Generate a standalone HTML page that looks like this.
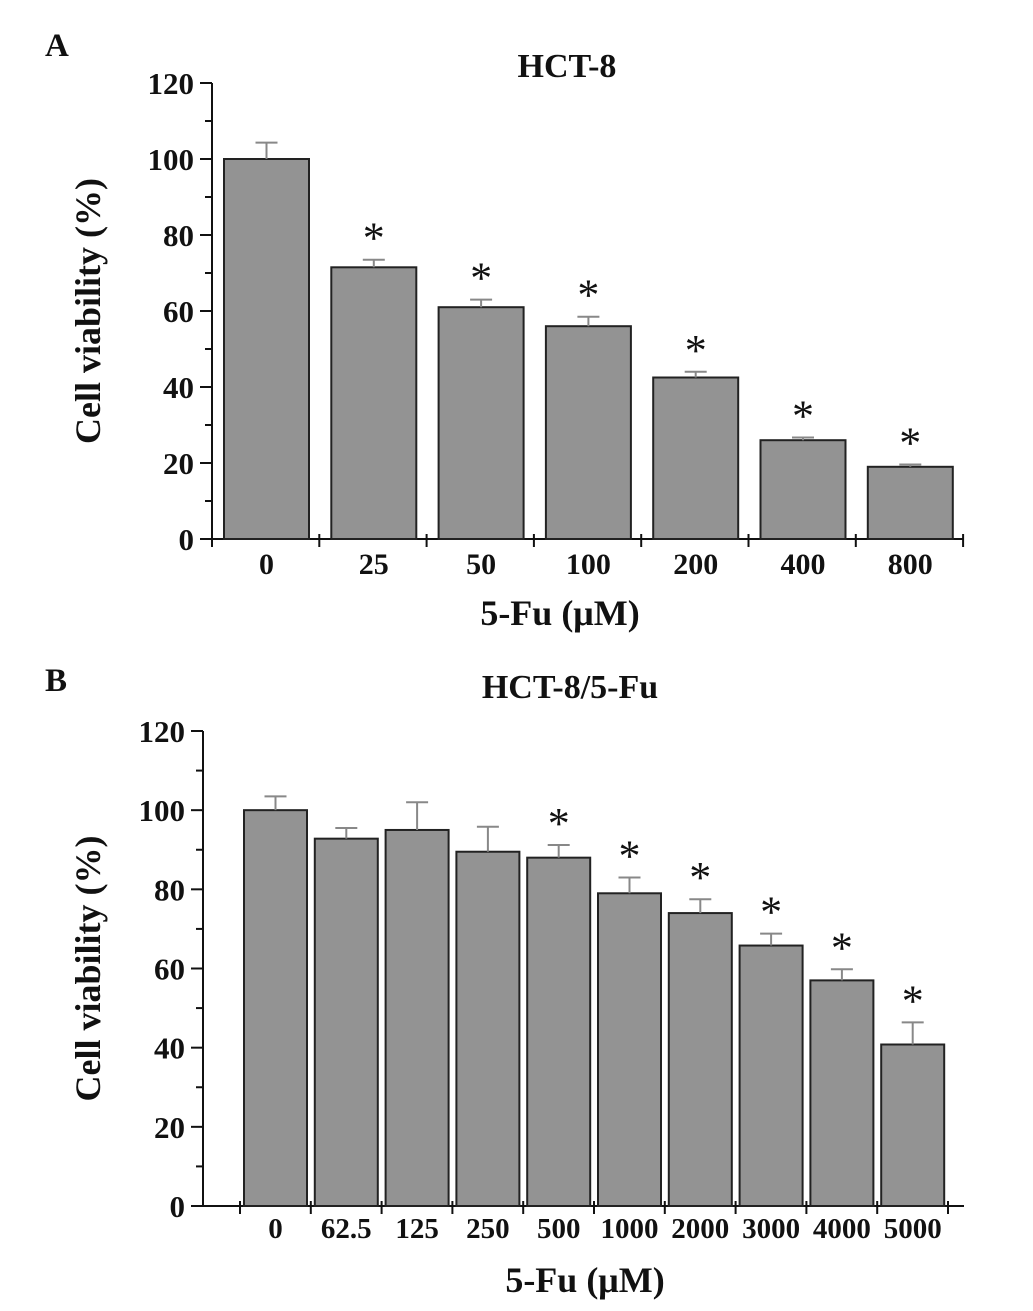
<!DOCTYPE html>
<html><head><meta charset="utf-8"><style>
html,body{margin:0;padding:0;background:#fff}
svg text{font-family:"Liberation Serif",serif;font-weight:bold;fill:#111}
svg text.star{font-weight:normal}
</style></head><body>
<svg id="c" width="1033" height="1306" viewBox="0 0 1033 1306" xmlns="http://www.w3.org/2000/svg"></svg>
<script>
const catsA=["0","25","50","100","200","400","800"];
const valsA=[100,71.5,61,56,42.5,26,19];
const errA=[4.3,2,2,2.5,1.5,0.7,0.6];
const sigA=[false,true,true,true,true,true,true];
const catsB=["0","62.5","125","250","500","1000","2000","3000","4000","5000"];
const valsB=[100,92.8,95,89.5,88,79,74,65.8,57,40.8];
const errB=[3.5,2.7,7,6.3,3.2,4,3.5,3,2.8,5.6];
const sigB=[false,false,false,false,true,true,true,true,true,true];
const yTicks=[0,20,40,60,80,100,120];
const NS="http://www.w3.org/2000/svg";
const svg=document.getElementById('c');
function mk(t,a,p){const e=document.createElementNS(NS,t);for(const k in a)e.setAttribute(k,a[k]);(p||svg).appendChild(e);return e;}
function panel(o){
  const g=mk('g',{});
  
  
  const y=v=>o.y0-(o.y0-o.y120)*v/120;
  const step=o.step;
  const ya=mk('line',{x1:o.ax,y1:o.y120,x2:o.ax,y2:o.y0,stroke:'#111','stroke-width':2},g);
  
  for(let v=0;v<=120;v+=10){
    const major=v%20===0;
    mk('line',{x1:o.ax-(major?12:7),y1:y(v),x2:o.ax,y2:y(v),stroke:'#111','stroke-width':2},g);
  }
  yTicks.forEach(v=>{const t=mk('text',{x:o.ax-18,y:y(v)+11,'text-anchor':'end','font-size':31},g);t.textContent=v;
    });
  const xa=mk('line',{x1:o.ax-10,y1:o.y0,x2:o.xAxEnd,y2:o.y0,stroke:'#111','stroke-width':2},g);
  
  for(let i=0;i<=o.cats.length;i++) mk('line',{x1:o.tick0+step*i,y1:o.y0-5,x2:o.tick0+step*i,y2:o.y0+8,stroke:'#111','stroke-width':2},g);
  o.cats.forEach((c,i)=>{
    const bx=o.tick0+step*i+o.inset, bw=o.bw, cx=bx+bw/2;
    const r=mk('rect',{x:bx,y:y(o.vals[i]),width:bw,height:o.y0-y(o.vals[i]),fill:'#939393',stroke:'#222','stroke-width':2},g);
    
    const et=y(o.vals[i]+o.err[i]);
    const e=mk('path',{d:`M${cx} ${y(o.vals[i])}V${et}M${cx-11} ${et}H${cx+11}`,stroke:'#888','stroke-width':2,fill:'none'},g);
    
    if(o.sig[i]){const s=mk('text',{x:cx,y:et-7,'text-anchor':'middle','font-size':44,'class':'star'},g);s.textContent='*';
      }
    const l=mk('text',{x:cx,y:o.y0+o.lblDy,'text-anchor':'middle','font-size':o.lblFs},g);l.textContent=c;
    
  });
  const t=mk('text',{x:o.titleX,y:o.titleY,'text-anchor':'middle','font-size':34},g);t.textContent=o.title;
  
  const L=mk('text',{x:o.letterX,y:o.letterY,'font-size':33},g);L.textContent=o.letter;
  
  const xl=mk('text',{x:o.xlX,y:o.xlY,'text-anchor':'middle','font-size':36},g);xl.textContent='5-Fu (μM)';
  
  const ym=(o.y0+o.y120)/2;
  const yl=mk('text',{x:0,y:0,'text-anchor':'middle','font-size':36,transform:`translate(${o.ylX},${ym}) rotate(-90)`},g);yl.textContent='Cell viability (%)';
  
}
panel({name:'panel-a-chart',cats:catsA,vals:valsA,err:errA,sig:sigA,ax:212,y0:539,y120:83,step:107.3,xAxEnd:963,tick0:212,inset:12,bw:85,
  lblDy:35,lblFs:30,title:'HCT-8',titleX:567,titleY:77,letter:'A',letterX:45,letterY:56,xlX:560,xlY:625,ylX:100});
panel({name:'panel-b-chart',cats:catsB,vals:valsB,err:errB,sig:sigB,ax:203,y0:1206,y120:731,step:70.8,xAxEnd:964,tick0:240,inset:4,bw:63,
  lblDy:32,lblFs:29,title:'HCT-8/5-Fu',titleX:570,titleY:698,letter:'B',letterX:45,letterY:691,xlX:585,xlY:1292,ylX:100});
</script>
</body></html>
